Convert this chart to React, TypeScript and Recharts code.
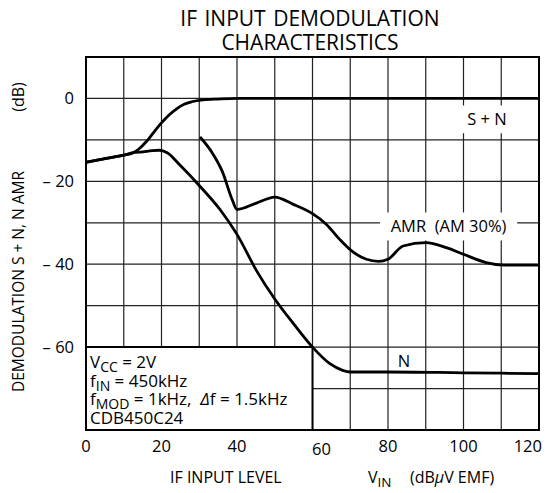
import React from "react";
import {
  LineChart,
  Line,
  XAxis,
  YAxis,
  CartesianGrid,
  ReferenceArea,
} from "recharts";

// ---- Data ----
const snX = [0, 5, 10, 12.5, 14, 16, 18, 20, 22, 24, 26, 28, 31, 35, 40, 60, 80, 100, 120];
const snY = [-15.4, -14.5, -13.7, -13.1, -12.2, -10.4, -8.1, -5.9, -4.0, -2.5, -1.4, -0.8, -0.35, -0.15, 0, 0, 0, 0, 0];

const nX = [0, 5, 10, 12.5, 15, 17.5, 19.5, 21.5, 25, 30, 35.5, 40, 45.2, 50, 55, 60, 64.6, 68, 70, 80, 100, 120];
const nY = [-15.4, -14.5, -13.7, -13.1, -12.9, -12.6, -12.5, -13.1, -16.2, -21, -26.8, -32.8, -41.6, -48.4, -54.4, -60, -64, -65.6, -66, -66, -66.2, -66.4];

const amrX = [30.2, 33.5, 36.1, 38.8, 40, 45, 50, 54.8, 60, 63.7, 67.2, 70.8, 74.3, 77.5, 80, 84, 90, 95.5, 100, 106, 110.7, 120];
const amrY = [-9.3, -13.2, -17.6, -24.6, -26.8, -25.3, -23.8, -25.5, -27.8, -30.4, -34, -37.1, -38.8, -39.3, -38.8, -35.6, -34.8, -36, -37.6, -39.6, -40.2, -40.2];

const xTicks = [0, 20, 40, 60, 80, 100, 120];
const yTicks = [-60, -40, -20, 0];
const xGrid = [10, 20, 30, 40, 50, 60, 70, 80, 90, 100, 110];
const yGrid = [-70, -60, -50, -40, -30, -20, -10, 0];

const toPoints = (xs: number[], ys: number[]) => xs.map((x, i) => ({ x, y: ys[i] }));
const snData = toPoints(snX, snY);
const nData = toPoints(nX, nY);
const amrData = toPoints(amrX, amrY);

const FONT = "'Open Sans', 'Noto Sans', sans-serif";

const XTick = (props: any) => {
  const { x, y, payload } = props;
  const v = payload.value;
  let anchor: any = "middle";
  let dx = 0;
  let dy = 0;
  if (v === 120) {
    anchor = "end";
    dx = 3;
  }
  if (v === 60) {
    dx = 9;
    dy = 3;
  }
  return (
    <text x={x + dx} y={y + dy} dy="0.71em" textAnchor={anchor} fontSize={16.5} fontFamily={FONT} fill="#000">
      {v}
    </text>
  );
};

const YTick = (props: any) => {
  const { x, y, payload } = props;
  const v = payload.value;
  const s = v < 0 ? `\u2013 ${-v}` : `${v}`;
  return (
    <text x={x} y={y} dy="0.355em" textAnchor="end" fontSize={16.5} fontFamily={FONT} fill="#000">
      {s}
    </text>
  );
};

const LegendText = (props: any) => {
  const vb = props && props.viewBox ? props.viewBox : { x: 86, y: 346.7 };
  const x0 = vb.x + 4;
  const y0 = vb.y;
  const sub = { fontSize: 14 };
  return (
    <text fontSize={17} fontFamily={FONT} fill="#000">
      <tspan x={x0} y={y0 + 21}>V</tspan>
      <tspan dy={4} style={sub}>CC</tspan>
      <tspan dy={-4}> = 2V</tspan>
      <tspan x={x0} y={y0 + 39.5}>f</tspan>
      <tspan dy={4} style={sub}>IN</tspan>
      <tspan dy={-4}> = 450kHz</tspan>
      <tspan x={x0} y={y0 + 58}>f</tspan>
      <tspan dy={4} style={sub}>MOD</tspan>
      <tspan dy={-4}>{" = 1kHz,\u00A0 "}</tspan>
      <tspan fontStyle="italic">{"\u0394"}</tspan>
      <tspan>f = 1.5kHz</tspan>
      <tspan x={x0} y={y0 + 77}>CDB450C24</tspan>
    </text>
  );
};

const YLabel = () => (
  <g>
    <text
      x={18}
      y={392}
      transform="rotate(-90, 18, 392)"
      textAnchor="start"
      dominantBaseline="central"
      fontSize={15.5}
      fontFamily={FONT}
      fill="#000"
    >
      DEMODULATION S + N, N AMR
    </text>
    <text
      x={18}
      y={97}
      transform="rotate(-90, 18, 97)"
      textAnchor="middle"
      dominantBaseline="central"
      fontSize={16}
      fontFamily={FONT}
      fill="#000"
    >
      (dB)
    </text>
  </g>
);

const XLabel = () => (
  <g fontSize={16} fontFamily={FONT} fill="#000">
    <text x={170} y={483} textAnchor="start">IF INPUT LEVEL</text>
    <text x={368} y={483} textAnchor="start">
      <tspan>V</tspan>
      <tspan dy={4} fontSize={13.5}>IN</tspan>
    </text>
    <text x={410} y={483} textAnchor="start">
      <tspan>(dB</tspan>
      <tspan fontStyle="italic">{"\u03BC"}</tspan>
      <tspan>V EMF)</tspan>
    </text>
  </g>
);

export default function App() {
  return (
    <div style={{ position: "absolute", left: 0, top: 0, width: 552, height: 493, background: "#fff" }}>
      <div
        style={{
          position: "absolute",
          left: 0,
          top: 6,
          width: 620,
          textAlign: "center",
          fontFamily: FONT,
          fontSize: 21,
          lineHeight: "24px",
          color: "#000",
          wordSpacing: 2,
        }}
      >
        IF INPUT DEMODULATION
        <br />
        CHARACTERISTICS
      </div>
      <div style={{ position: "absolute", left: 0, top: 0 }}>
        <LineChart width={552} height={493} margin={{ top: 57, right: 13, bottom: 13, left: 16 }}>
          <CartesianGrid
            horizontalValues={yGrid}
            verticalValues={xGrid}
            stroke="#222"
            strokeWidth={1.2}
          />
          <XAxis
            dataKey="x"
            type="number"
            domain={[0, 120]}
            ticks={xTicks}
            allowDataOverflow
            axisLine={false}
            tickLine={false}
            tickSize={0}
            tickMargin={10}
            height={50}
            tick={<XTick />}
            label={{ content: () => <XLabel /> }}
          />
          <YAxis
            type="number"
            domain={[-80, 10]}
            ticks={yTicks}
            allowDataOverflow
            axisLine={false}
            tickLine={false}
            tickSize={0}
            tickMargin={12}
            width={70}
            tick={<YTick />}
            label={{ content: () => <YLabel /> }}
          />
          <ReferenceArea
            x1={0}
            x2={60}
            y1={-80}
            y2={-60}
            fill="#fff"
            fillOpacity={1}
            stroke="#000"
            strokeWidth={2}
            label={{ content: (p: any) => <LegendText {...p} /> }}
          />
          <ReferenceArea
            x1={99.6}
            x2={112.8}
            y1={-8.4}
            y2={-1.7}
            fill="#fff"
            fillOpacity={1}
            stroke="none"
            label={{ value: "S + N", position: "center", fontSize: 16.5, fill: "#000", fontFamily: FONT }}
          />
          <ReferenceArea
            x1={77.9}
            x2={114.2}
            y1={-34.3}
            y2={-27.5}
            fill="#fff"
            fillOpacity={1}
            stroke="none"
            label={{ value: "AMR\u00A0\u00A0(AM 30%)", position: "center", fontSize: 16.5, fill: "#000", fontFamily: FONT }}
          />
          <ReferenceArea
            x1={80.5}
            x2={88}
            y1={-65.5}
            y2={-61.5}
            fill="none"
            stroke="none"
            label={{ value: "N", position: "center", fontSize: 16.5, fill: "#000", fontFamily: FONT }}
          />
          <ReferenceArea x1={0} x2={120} y1={-80} y2={10} fill="none" stroke="#000" strokeWidth={2} />
          <Line data={snData} dataKey="y" type="monotone" stroke="#000" strokeWidth={2.8} dot={false} isAnimationActive={false} />
          <Line data={nData} dataKey="y" type="monotone" stroke="#000" strokeWidth={2.8} dot={false} isAnimationActive={false} />
          <Line data={amrData} dataKey="y" type="monotone" stroke="#000" strokeWidth={2.8} dot={false} isAnimationActive={false} />
        </LineChart>
      </div>
    </div>
  );
}
